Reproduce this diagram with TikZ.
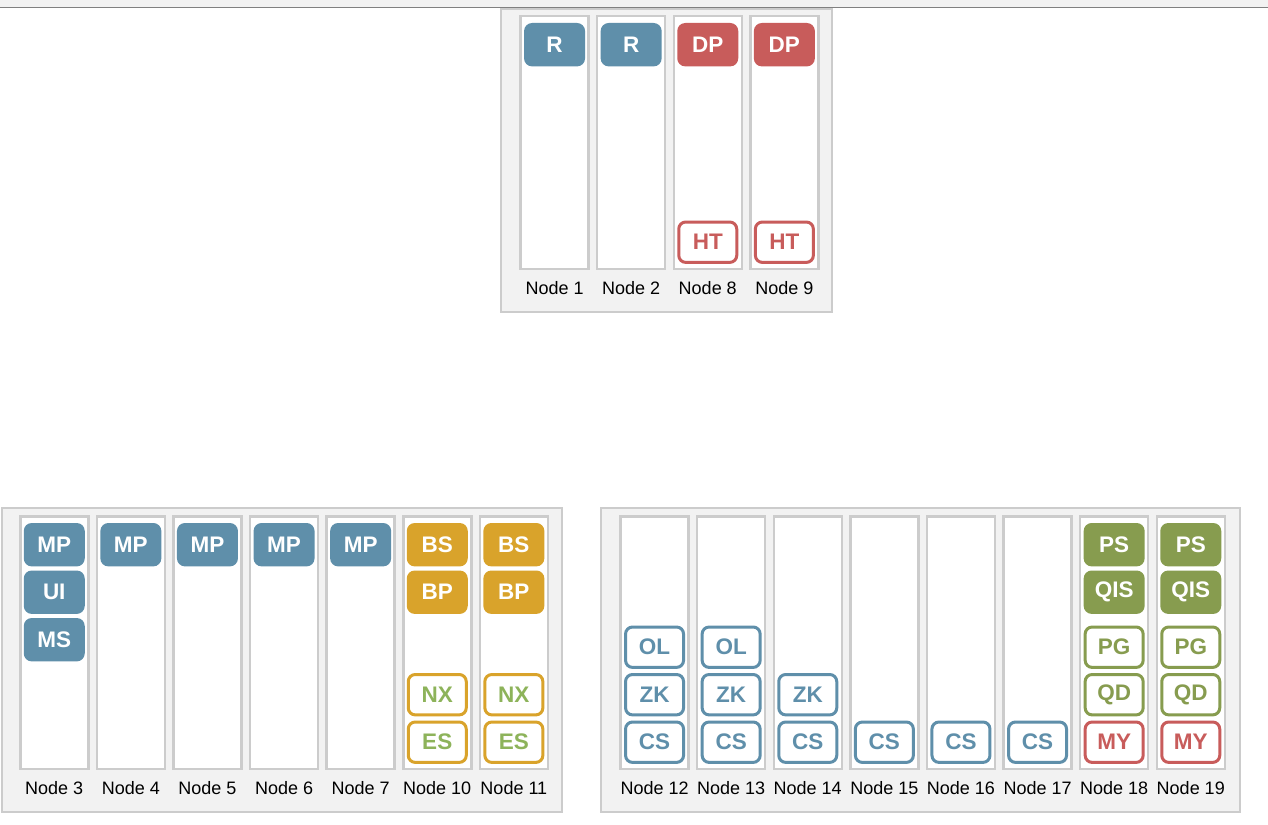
\documentclass[tikz,border=0pt]{standalone}
\usepackage{fontspec}
\setmainfont{Liberation Sans}
\definecolor{cblue}{HTML}{5F8FAA}
\definecolor{cred}{HTML}{C85C5B}
\definecolor{cgold}{HTML}{D9A32B}
\definecolor{cgreen}{HTML}{879C4F}
\definecolor{clgreen}{HTML}{8DB35A}
\definecolor{cline}{HTML}{CCCCCC}
\definecolor{cgrp}{HTML}{F2F2F2}
\tikzset{
  grpbox/.style={draw=cline, fill=cgrp, line width=2pt, inner sep=0pt},
  colbox/.style={draw=cline, fill=white, line width=2.5pt, minimum width=68pt, minimum height=252.5pt, inner sep=0pt},
  lbl/.style={font=\fontsize{18}{18}\selectfont, inner sep=0pt, text=black},
  svf/.style={fill=#1, rounded corners=8pt, minimum width=61pt, minimum height=43.4pt, inner sep=0pt, text=white, font=\bfseries\fontsize{22.5}{22.5}\selectfont},
  svo/.style 2 args={draw=#1, fill=white, line width=3pt, rounded corners=7pt, minimum width=58pt, minimum height=40.4pt, inner sep=0pt, text=#2, font=\bfseries\fontsize{22.5}{22.5}\selectfont},
}
\newcommand\mkcol[4]{%
  \node[colbox] (#1) at ({#2+35.25},{#3+127.5}) {};
  \node[lbl] (#1l) at ({#2+35.25},{#3+273}) {#4};}
\newcommand\svc[6]{%
  \pgfmathsetmacro\sy{#4>0 ? #3+29.7+47.5*(#4-1) : #3+227.2+47.5*(#4+1)}%
  \node[#5] (#1) at ({#2+35.25},\sy) {#6};}
\begin{document}
\begin{tikzpicture}[x=1pt,y=-1pt]
\useasboundingbox (0,0) rectangle (1268,824);
\fill[white] (0,0) rectangle (1268,824);
% groups
\node[grpbox, minimum width=331pt, minimum height=303pt] (gtop) at (666.5,160.5) {};
\node[grpbox, minimum width=560pt, minimum height=304pt] (gbl) at (282,660) {};
\node[grpbox, minimum width=638.5pt, minimum height=304pt] (gbr) at (920.25,660) {};
% top band
\fill[cgrp] (0,0) rectangle (1268,7);
\draw[line width=1.5pt, color=gray] (0,7.5) -- (1268,7.5);
% top group
\mkcol{n1}{519.3}{15}{Node 1}
\mkcol{n2}{595.9}{15}{Node 2}
\mkcol{n8}{672.5}{15}{Node 8}
\mkcol{n9}{749.1}{15}{Node 9}
\svc{n1a}{519.3}{15}{1}{svf=cblue}{R}
\svc{n2a}{595.9}{15}{1}{svf=cblue}{R}
\svc{n8a}{672.5}{15}{1}{svf=cred}{DP}
\svc{n8b}{672.5}{15}{-1}{svo={cred}{cred}}{HT}
\svc{n9a}{749.1}{15}{1}{svf=cred}{DP}
\svc{n9b}{749.1}{15}{-1}{svo={cred}{cred}}{HT}
% bottom-left group
\mkcol{n3}{19}{515}{Node 3}
\mkcol{n4}{95.6}{515}{Node 4}
\mkcol{n5}{172.2}{515}{Node 5}
\mkcol{n6}{248.8}{515}{Node 6}
\mkcol{n7}{325.4}{515}{Node 7}
\mkcol{n10}{402}{515}{Node 10}
\mkcol{n11}{478.6}{515}{Node 11}
\svc{n3a}{19}{515}{1}{svf=cblue}{MP}
\svc{n3b}{19}{515}{2}{svf=cblue}{UI}
\svc{n3c}{19}{515}{3}{svf=cblue}{MS}
\svc{n4a}{95.6}{515}{1}{svf=cblue}{MP}
\svc{n5a}{172.2}{515}{1}{svf=cblue}{MP}
\svc{n6a}{248.8}{515}{1}{svf=cblue}{MP}
\svc{n7a}{325.4}{515}{1}{svf=cblue}{MP}
\svc{n10a}{402}{515}{1}{svf=cgold}{BS}
\svc{n10b}{402}{515}{2}{svf=cgold}{BP}
\svc{n10c}{402}{515}{-2}{svo={cgold}{clgreen}}{NX}
\svc{n10d}{402}{515}{-1}{svo={cgold}{clgreen}}{ES}
\svc{n11a}{478.6}{515}{1}{svf=cgold}{BS}
\svc{n11b}{478.6}{515}{2}{svf=cgold}{BP}
\svc{n11c}{478.6}{515}{-2}{svo={cgold}{clgreen}}{NX}
\svc{n11d}{478.6}{515}{-1}{svo={cgold}{clgreen}}{ES}
% bottom-right group
\mkcol{n12}{619.3}{515}{Node 12}
\mkcol{n13}{695.9}{515}{Node 13}
\mkcol{n14}{772.5}{515}{Node 14}
\mkcol{n15}{849.1}{515}{Node 15}
\mkcol{n16}{925.7}{515}{Node 16}
\mkcol{n17}{1002.3}{515}{Node 17}
\mkcol{n18}{1078.9}{515}{Node 18}
\mkcol{n19}{1155.5}{515}{Node 19}
\svc{n12a}{619.3}{515}{-3}{svo={cblue}{cblue}}{OL}
\svc{n12b}{619.3}{515}{-2}{svo={cblue}{cblue}}{ZK}
\svc{n12c}{619.3}{515}{-1}{svo={cblue}{cblue}}{CS}
\svc{n13a}{695.9}{515}{-3}{svo={cblue}{cblue}}{OL}
\svc{n13b}{695.9}{515}{-2}{svo={cblue}{cblue}}{ZK}
\svc{n13c}{695.9}{515}{-1}{svo={cblue}{cblue}}{CS}
\svc{n14b}{772.5}{515}{-2}{svo={cblue}{cblue}}{ZK}
\svc{n14c}{772.5}{515}{-1}{svo={cblue}{cblue}}{CS}
\svc{n15c}{849.1}{515}{-1}{svo={cblue}{cblue}}{CS}
\svc{n16c}{925.7}{515}{-1}{svo={cblue}{cblue}}{CS}
\svc{n17c}{1002.3}{515}{-1}{svo={cblue}{cblue}}{CS}
\svc{n18a}{1078.9}{515}{1}{svf=cgreen}{PS}
\svc{n18b}{1078.9}{515}{2}{svf=cgreen}{QIS}
\svc{n18c}{1078.9}{515}{-3}{svo={cgreen}{cgreen}}{PG}
\svc{n18d}{1078.9}{515}{-2}{svo={cgreen}{cgreen}}{QD}
\svc{n18e}{1078.9}{515}{-1}{svo={cred}{cred}}{MY}
\svc{n19a}{1155.5}{515}{1}{svf=cgreen}{PS}
\svc{n19b}{1155.5}{515}{2}{svf=cgreen}{QIS}
\svc{n19c}{1155.5}{515}{-3}{svo={cgreen}{cgreen}}{PG}
\svc{n19d}{1155.5}{515}{-2}{svo={cgreen}{cgreen}}{QD}
\svc{n19e}{1155.5}{515}{-1}{svo={cred}{cred}}{MY}
\end{tikzpicture}
\end{document}
